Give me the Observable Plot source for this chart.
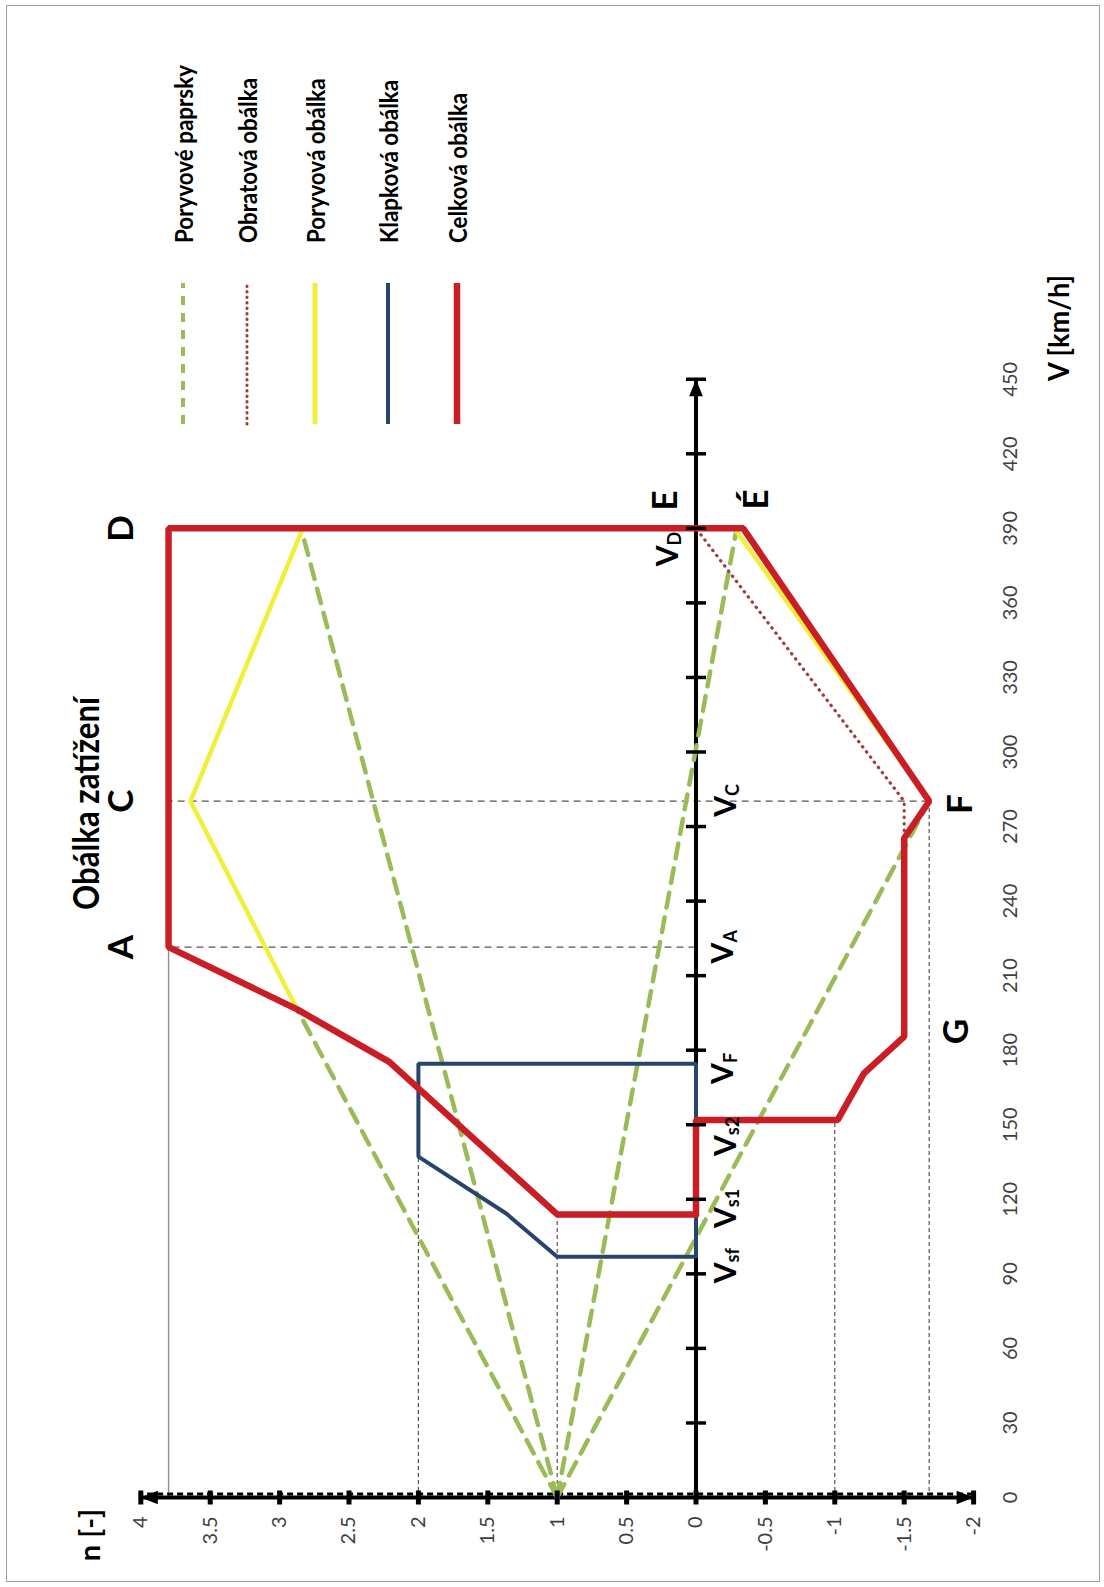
<!DOCTYPE html>
<html>
<head>
<meta charset="utf-8">
<script src="https://cdn.jsdelivr.net/npm/d3@7"></script>
<script src="https://cdn.jsdelivr.net/npm/@observablehq/plot@0.6"></script>
<style>
  html, body { margin: 0; padding: 0; background: #fff; overflow: hidden; }
  #page { position: relative; width: 1104px; height: 1587px; overflow: hidden; background: #fff; }
  #frame { position: absolute; left: 6px; top: 5px; width: 1094px; height: 1577px; box-sizing: border-box; border: 1.5px solid #a0a0a0; }
  #stage { position: absolute; left: 0; top: 0; width: 1587px; height: 1104px;
           transform-origin: 0 0; transform: translate(0px, 1587px) rotate(-90deg); }
  #stage > svg { position: absolute; left: 0; top: 0; }
</style>
</head>
<body>
<div id="page"><div id="frame"></div><div id="stage"></div></div>
<script>
// ---------------- data ----------------
const titleText = "Obálka zatížení";
const xTitle = "V [km/h]";
const yTitle = "n [-]";

const vTickValues = [0, 30, 60, 90, 120, 150, 180, 210, 240, 270, 300, 330, 360, 390, 420, 450];
const vTickLabels = ["0", "30", "60", "90", "120", "150", "180", "210", "240", "270", "300", "330", "360", "390", "420", "450"];
const nTickValues = [4, 3.5, 3, 2.5, 2, 1.5, 1, 0.5, 0, -0.5, -1, -1.5, -2];
const nTickLabels = ["4", "3.5", "3", "2.5", "2", "1.5", "1", "0.5", "0", "-0.5", "-1", "-1.5", "-2"];

const legendLabels = ["Poryvové paprsky", "Obratová obálka", "Poryvová obálka", "Klapková obálka", "Celková obálka"];

// gust rays (Poryvové paprsky), each from (0, 1)
const gustRayB  = [[0, 1], [196.4, 2.873]];
const gustRayD  = [[0, 1], [389, 2.84]];
const gustRayC2 = [[0, 1], [280.2, -1.68]];
const gustRayE2 = [[0, 1], [389, -0.29]];

// manoeuvre envelope (Obratová obálka)
const manoeuvreEnv = [[113.9, 1], [175.3, 2.21], [196.4, 2.873], [221.5, 3.8], [390, 3.8], [390, 0],
                      [280.2, -1.5], [185.5, -1.5], [170.7, -1.21], [151.9, -1.02], [151.9, 0]];
// gust envelope (Poryvová obálka)
const gustEnvPos = [[196.4, 2.873], [280.2, 3.642], [389, 2.84]];
const gustEnvNeg = [[389, -0.29], [280.2, -1.68]];
// flap envelope (Klapková obálka)
const flapEnv = [[96.9, 0], [96.9, 1], [114.4, 1.37], [137.2, 2], [174.5, 2], [174.5, 0], [96.9, 0]];
// total envelope (Celková obálka)
const totalEnv = [[113.9, 0], [113.9, 1], [175.3, 2.21], [196.4, 2.873], [221.5, 3.8], [390, 3.8], [390, 0],
                  [390, -0.34], [280.2, -1.68], [265.3, -1.5], [185.5, -1.5], [170.7, -1.21], [151.9, -1.02],
                  [151.9, 0], [113.9, 0]];

// reference lines
const refSolidN = [{n: 3.8, v1: 0, v2: 221.5}];
const refDashV  = [{v: 221.5, n1: 0, n2: 3.8}, {v: 280.2, n1: -1.68, n2: 3.8}];
const refDashN  = [{n: 2, v1: 0, v2: 137.2}, {n: 1, v1: 0, v2: 113.9}, {n: -1, v1: 0, v2: 151.9}, {n: -1.68, v1: 0, v2: 280.2}];

// point labels
const pointLabels = [
  {t: "A", v: 221.5, n: 4.14}, {t: "C", v: 280.2, n: 4.14}, {t: "D", v: 390, n: 4.14},
  {t: "E", v: 401.2, n: 0.22}, {t: "É", v: 401.6, n: -0.44},
  {t: "F", v: 279, n: -1.91}, {t: "G", v: 187.5, n: -1.88}
];
const speedLabels = [
  {sub: "sf", v: 93.8, n: -0.22}, {sub: "s1", v: 116, n: -0.22}, {sub: "s2", v: 145, n: -0.22},
  {sub: "F", v: 174, n: -0.2}, {sub: "A", v: 222.5, n: -0.2}, {sub: "C", v: 281.5, n: -0.22},
  {sub: "D", v: 382.3, n: 0.2}
];

// ---------------- style / layout ----------------
const FONT = "Lato, 'Open Sans', sans-serif";
const S = {title: 37, axisTitle: 29, legend: 25, tick: 20, point: 35, vMain: 30, vSub: 18};

const W = 1587, H = 1104;
const M = {left: 89, right: 379.75, top: 140.3, bottom: 130.9};

const C = {
  green: "#9bbb59", dotred: "#a33b3b", yellow: "#f0f03a", blue: "#29446a", red: "#c91e26",
  ref: "#555555", refSolid: "#8f8f8f", tickText: "#404040"
};

const hBar = {draw(ctx, size) { const r = Math.sqrt(size / Math.PI); ctx.moveTo(-r, 0); ctx.lineTo(r, 0); }};
const vBar = {draw(ctx, size) { const r = Math.sqrt(size / Math.PI); ctx.moveTo(0, -r); ctx.lineTo(0, r); }};
const arrowHead = {draw(ctx, size) { const r = Math.sqrt(size / Math.PI); ctx.moveTo(0, 0); ctx.lineTo(r * 0.4, r); ctx.lineTo(-r * 0.4, r); ctx.closePath(); }};

const rays = [gustRayB, gustRayD, gustRayC2, gustRayE2].flatMap((r, id) => r.map(p => ({v: p[0], n: p[1], id})));
const P = d => ({v: d[0], n: d[1]});

const chart = Plot.plot({
  width: W, height: H,
  marginLeft: M.left, marginRight: M.right, marginTop: M.top, marginBottom: M.bottom,
  x: {domain: [0, 450], axis: null},
  y: {domain: [-2, 4], axis: null},
  style: {fontFamily: FONT, background: "transparent", overflow: "visible"},
  marks: [
    // reference lines
    Plot.ruleY(refSolidN, {y: "n", x1: "v1", x2: "v2", stroke: C.refSolid, strokeWidth: 1.4}),
    Plot.ruleX(refDashV, {x: "v", y1: "n1", y2: "n2", stroke: C.ref, strokeWidth: 1.2, strokeDasharray: "7,5"}),
    Plot.ruleY(refDashN, {y: "n", x1: "v1", x2: "v2", stroke: C.ref, strokeWidth: 1.2, strokeDasharray: "4,3"}),
    // axis lines
    Plot.ruleX([0], {x: d => d, y1: -2, y2: 4, stroke: "black", strokeWidth: 4}),
    Plot.ruleX([0], {x: d => d, y1: -2, y2: 4, dx: 3.5, stroke: "black", strokeWidth: 3, strokeDasharray: "6,4"}),
    Plot.ruleY([0], {y: d => d, x1: 0, x2: 450, stroke: "black", strokeWidth: 4}),
    // series
    Plot.line(rays, {x: "v", y: "n", z: "id", stroke: C.green, strokeWidth: 4.5, strokeDasharray: "15,10"}),
    Plot.line(manoeuvreEnv.map(P), {x: "v", y: "n", stroke: C.dotred, strokeWidth: 3.2, strokeDasharray: "0.5,6", strokeLinecap: "round"}),
    Plot.line(gustEnvPos.map(P), {x: "v", y: "n", stroke: C.yellow, strokeWidth: 4.5}),
    Plot.line(gustEnvNeg.map(P), {x: "v", y: "n", stroke: C.yellow, strokeWidth: 4.5}),
    Plot.line(flapEnv.map(P), {x: "v", y: "n", stroke: C.blue, strokeWidth: 4, strokeLinejoin: "miter"}),
    Plot.line(totalEnv.map(P), {x: "v", y: "n", stroke: C.red, strokeWidth: 6.5, strokeLinejoin: "miter"}),
    // ticks and arrows
    Plot.dot(nTickValues, {x: 0, y: d => d, symbol: hBar, r: 7, stroke: "black", strokeWidth: 5, fill: "none"}),
    Plot.dot(vTickValues.filter(d => d > 0), {x: d => d, y: 0, symbol: vBar, r: 10, stroke: "black", strokeWidth: 3.5, fill: "none"}),
    Plot.dot([4], {x: 0, y: d => d, symbol: arrowHead, r: 17, fill: "black", stroke: "none", rotate: 0}),
    Plot.dot([-2], {x: 0, y: d => d, symbol: arrowHead, r: 17, fill: "black", stroke: "none", rotate: 180}),
    Plot.dot([450], {x: d => d, y: 0, symbol: arrowHead, r: 17, fill: "black", stroke: "none", rotate: 90}),
    // tick labels
    Plot.text(nTickValues, {x: 0, y: d => d, text: (d, i) => nTickLabels[i], dx: -19, textAnchor: "end", lineAnchor: "middle", fontSize: S.tick, fill: C.tickText}),
    Plot.text(vTickValues, {x: d => d, y: -2, text: (d, i) => vTickLabels[i], dy: 37, textAnchor: "middle", lineAnchor: "middle", fontSize: S.tick, fill: C.tickText}),
    // point labels
    Plot.text(pointLabels, {x: "v", y: "n", text: "t", textAnchor: "middle", lineAnchor: "middle", fontSize: S.point, fontWeight: "bold", fill: "black"}),
    Plot.text(speedLabels, {x: "v", y: "n", text: () => "V", dx: 2, textAnchor: "end", lineAnchor: "middle", fontSize: S.vMain, fontWeight: "bold", fill: "black"}),
    Plot.text(speedLabels, {x: "v", y: "n", text: "sub", dx: 2, dy: 7, textAnchor: "start", lineAnchor: "middle", fontSize: S.vSub, fontWeight: "bold", fill: "black"})
  ]
});
document.getElementById("stage").appendChild(chart);

// overlay: title, axis titles, legend
const ov = d3.select("#stage").append("svg")
  .attr("width", W).attr("height", H)
  .style("font-family", FONT)
  .style("overflow", "visible");

// condense a text element to a target length (narrow, Calibri-like look)
function condense(sel, target) {
  const el = sel.node();
  const w = el.getComputedTextLength();
  if (w > 0) sel.attr("textLength", target).attr("lengthAdjust", "spacingAndGlyphs");
}

const title = ov.append("text").attr("x", 783.5).attr("y", 84).attr("text-anchor", "middle").attr("dominant-baseline", "central")
  .attr("font-size", S.title).attr("font-weight", "bold").attr("fill", "black").text(titleText);
condense(title, 213);
ov.append("text").attr("x", 52).attr("y", 88).attr("text-anchor", "middle").attr("dominant-baseline", "central")
  .attr("font-size", S.axisTitle).attr("font-weight", "bold").attr("fill", "black").text(yTitle);
const xt = ov.append("text").attr("x", 1206).attr("y", 1057).attr("text-anchor", "start").attr("dominant-baseline", "central")
  .attr("font-size", S.axisTitle).attr("font-weight", "bold").attr("fill", "black").text(xTitle);
condense(xt, 106);

const legendStyles = [
  {stroke: C.green, width: 4, dash: "9,8", cap: "butt"},
  {stroke: C.dotred, width: 3, dash: "0.5,5", cap: "round"},
  {stroke: C.yellow, width: 5, dash: null, cap: "butt"},
  {stroke: C.blue, width: 4, dash: null, cap: "butt"},
  {stroke: C.red, width: 6.5, dash: null, cap: "butt"}
];
const legendRowY = [183, 247, 315, 388, 457];
let kLegend = null;
legendLabels.forEach((lab, i) => {
  const s = legendStyles[i];
  const y = legendRowY[i];
  const ln = ov.append("line").attr("x1", 1163).attr("x2", 1304).attr("y1", y).attr("y2", y)
    .attr("stroke", s.stroke).attr("stroke-width", s.width).attr("stroke-linecap", s.cap);
  if (s.dash) ln.attr("stroke-dasharray", s.dash);
  const t = ov.append("text").attr("x", 1344).attr("y", y).attr("dominant-baseline", "central")
    .attr("font-size", S.legend).attr("font-weight", "bold").attr("fill", "black").text(lab);
  const w = t.node().getComputedTextLength();
  if (kLegend === null) kLegend = w > 0 ? 178 / w : 1;
  if (w > 0) t.attr("textLength", w * kLegend).attr("lengthAdjust", "spacingAndGlyphs");
});
</script>
</body>
</html>
